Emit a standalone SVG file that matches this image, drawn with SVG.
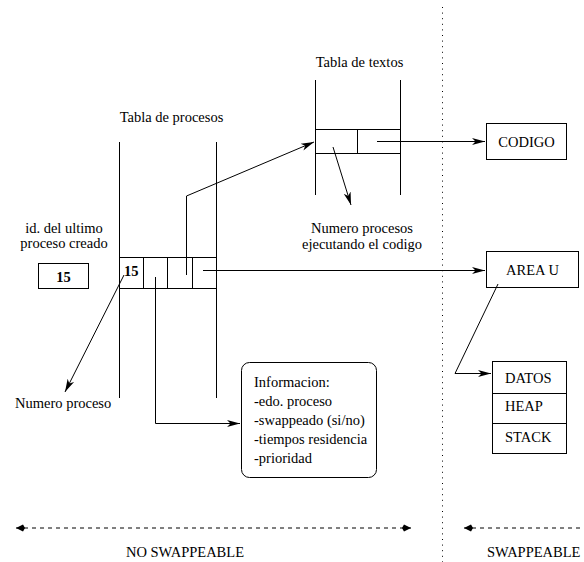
<svg xmlns="http://www.w3.org/2000/svg" width="584" height="562" viewBox="0 0 584 562" font-family="'Liberation Serif', serif">
  <style>
    text { font-family: 'Liberation Serif', serif; font-size: 14.5px; fill: #000; }
    .mid { text-anchor: middle; }
    .bold { font-weight: bold; }
    .ln { fill: none; stroke: #000; stroke-width: 1; }
    .box { fill: #fff; stroke: #000; stroke-width: 1; }
    .dash { fill: none; stroke: #000; stroke-width: 1; stroke-dasharray: 4 4; }
    .dots { fill: none; stroke: #000; stroke-width: 1; stroke-dasharray: 1 4.6; }
  </style>
  <defs>
    <marker id="arrow" markerUnits="userSpaceOnUse" markerWidth="14" markerHeight="10" viewBox="-13 -5 14 10" refX="0" refY="0" orient="auto">
      <path d="M0,0 L-13,-3.6 L-9.5,0 L-13,3.6 Z" fill="#000"/>
    </marker>
    <marker id="kite" markerUnits="userSpaceOnUse" markerWidth="12" markerHeight="10" viewBox="-11 -5 12 10" refX="0" refY="0" orient="auto-start-reverse">
      <path d="M0,0 L-7,-3.6 L-9,0 L-7,3.6 Z" fill="#000"/>
    </marker>
  </defs>

  <rect width="584" height="562" fill="#fff"/>

  <!-- boundary between resident and swappable memory -->
  <line class="dots" x1="442.5" y1="7" x2="442.5" y2="562"/>

  <g id="ultimo-id">
    <text class="mid" x="64" y="233">id. del ultimo</text>
    <text class="mid" x="64" y="248">proceso creado</text>
    <rect class="box" x="38.5" y="263.5" width="50" height="25"/>
    <text class="mid bold" x="63.5" y="282">15</text>
  </g>

  <g id="tabla-procesos">
    <text class="mid" x="171.5" y="122">Tabla de procesos</text>
    <line class="ln" x1="119.5" y1="142" x2="119.5" y2="398"/>
    <line class="ln" x1="216.5" y1="142" x2="216.5" y2="398"/>
    <line class="ln" x1="119.5" y1="257.5" x2="216.5" y2="257.5"/>
    <line class="ln" x1="119.5" y1="288.5" x2="216.5" y2="288.5"/>
    <line class="ln" x1="143.5" y1="257.5" x2="143.5" y2="288.5"/>
    <line class="ln" x1="167.5" y1="257.5" x2="167.5" y2="288.5"/>
    <line class="ln" x1="192.5" y1="257.5" x2="192.5" y2="288.5"/>
    <text class="bold" x="124" y="276">15</text>
  </g>

  <g id="tabla-textos">
    <text class="mid" x="359.5" y="67">Tabla de textos</text>
    <line class="ln" x1="315.5" y1="80" x2="315.5" y2="195"/>
    <line class="ln" x1="400.5" y1="80" x2="400.5" y2="195"/>
    <line class="ln" x1="315.5" y1="129.5" x2="400.5" y2="129.5"/>
    <line class="ln" x1="315.5" y1="153.5" x2="400.5" y2="153.5"/>
    <line class="ln" x1="357.5" y1="129.5" x2="357.5" y2="153.5"/>
  </g>

  <g id="numero-procesos">
    <text class="mid" x="362" y="233">Numero procesos</text>
    <text class="mid" x="362" y="249">ejecutando el codigo</text>
  </g>

  <g id="numero-proceso">
    <text x="15" y="408">Numero proceso</text>
  </g>

  <g id="informacion">
    <rect class="box" x="241.5" y="362.5" width="135" height="115" rx="8" ry="8"/>
    <text x="254" y="387">Informacion:</text>
    <text x="254" y="406">-edo. proceso</text>
    <text x="254" y="425">-swappeado (si/no)</text>
    <text x="254" y="444">-tiempos residencia</text>
    <text x="254" y="463">-prioridad</text>
  </g>

  <g id="codigo">
    <rect class="box" x="486.5" y="123.5" width="80" height="36"/>
    <text class="mid" x="526.5" y="147">CODIGO</text>
  </g>

  <g id="area-u">
    <rect class="box" x="486.5" y="251.5" width="92" height="36"/>
    <text class="mid" x="532.5" y="275">AREA U</text>
  </g>

  <g id="segmentos">
    <rect class="box" x="492.5" y="361.5" width="74" height="92"/>
    <line class="ln" x1="492.5" y1="393.5" x2="566.5" y2="393.5"/>
    <line class="ln" x1="492.5" y1="423.5" x2="566.5" y2="423.5"/>
    <text x="505" y="383">DATOS</text>
    <text x="505" y="411">HEAP</text>
    <text x="505" y="442">STACK</text>
  </g>

  <g id="conectores">
    <line class="ln" x1="124" y1="275" x2="65" y2="392" marker-end="url(#arrow)"/>
    <polyline class="ln" points="155.5,277 155.5,423.5 240,423.5" marker-end="url(#arrow)"/>
    <polyline class="ln" points="186.5,275 186.5,196 314,142" marker-end="url(#arrow)"/>
    <line class="ln" x1="203" y1="270.5" x2="485" y2="270.5" marker-end="url(#arrow)"/>
    <line class="ln" x1="333" y1="147" x2="351" y2="205" marker-end="url(#arrow)"/>
    <line class="ln" x1="377" y1="141.5" x2="485" y2="141.5" marker-end="url(#arrow)"/>
    <polyline class="ln" points="498,284 455,373.5 491,373.5" marker-end="url(#arrow)"/>
    <line class="dash" x1="16" y1="528" x2="411" y2="528" marker-start="url(#kite)" marker-end="url(#kite)"/>
    <line class="dash" x1="464" y1="528" x2="600" y2="528" marker-start="url(#kite)"/>
  </g>

  <g id="zonas">
    <text class="mid" x="185" y="557">NO SWAPPEABLE</text>
    <text x="487" y="557">SWAPPEABLE</text>
  </g>
</svg>
